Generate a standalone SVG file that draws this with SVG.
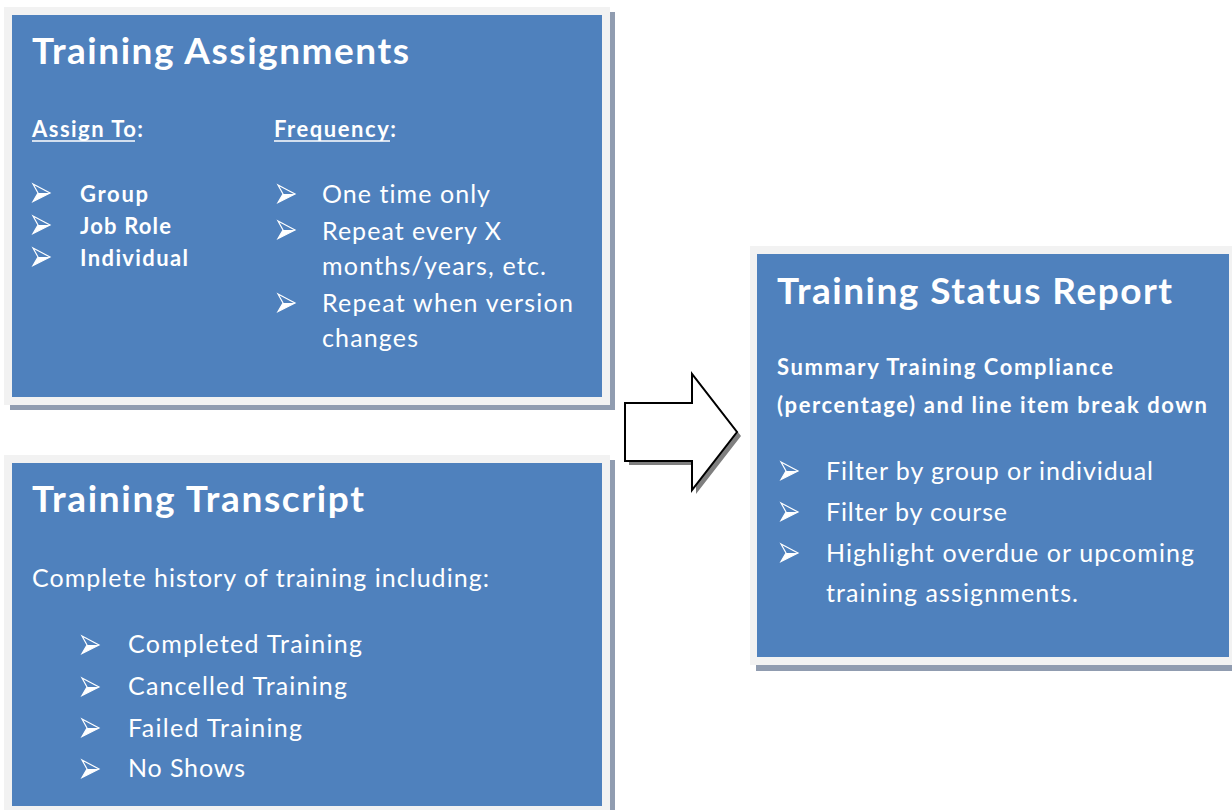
<svg xmlns="http://www.w3.org/2000/svg" xmlns:xlink="http://www.w3.org/1999/xlink" width="1232" height="810" viewBox="0 0 1232 810">
<style>
.shadow{fill:#909cb0}
.frame{fill:#f2f2f2}
.panel{fill:#4f81bd}
text{font-family:Lato,"Open Sans","Liberation Sans",sans-serif;fill:#ffffff;font-variant-ligatures:none;font-feature-settings:"liga" 0}
.title{font-size:37px;font-weight:bold}
.sub{font-size:22px;font-weight:bold}
.item{font-size:25px}
.bitem{font-size:22px;font-weight:bold}
.ul{stroke:#ffffff;stroke-width:1.6}
</style>
<defs>
<g id="bullet">
<path d="M0,0 L17,9 L0,17.5 L5,9 Z" fill="none" stroke="#ffffff" stroke-width="1.2" stroke-linejoin="miter"/>
<path d="M5,9 L17,9 L0,17.5 Z" fill="#ffffff"/>
</g>
</defs>
<rect width="1232" height="810" fill="#ffffff"/>

<g id="training-assignments">
<rect class="shadow" x="10" y="12" width="605" height="398"/>
<rect class="frame" x="4" y="7" width="606" height="398"/>
<rect class="panel" x="12" y="15" width="590" height="382"/>
<text class="title" x="32" y="64" textLength="377">Training Assignments</text>
<text class="sub" x="32" y="137" textLength="111">Assign To:</text>
<line class="ul" x1="32" y1="141" x2="135" y2="141"/>
<text class="sub" x="274" y="137" textLength="122">Frequency:</text>
<line class="ul" x1="274" y1="141" x2="390" y2="141"/>
<use xlink:href="#bullet" x="33" y="184"/>
<use xlink:href="#bullet" x="33" y="216"/>
<use xlink:href="#bullet" x="33" y="248"/>
<text class="bitem" x="80" y="202" textLength="68">Group</text>
<text class="bitem" x="80" y="234" textLength="91">Job Role</text>
<text class="bitem" x="80" y="266" textLength="108">Individual</text>
<use xlink:href="#bullet" x="278" y="185"/>
<use xlink:href="#bullet" x="278" y="221"/>
<use xlink:href="#bullet" x="278" y="294"/>
<text class="item" x="322" y="203" textLength="168">One time only</text>
<text class="item" x="322" y="240" textLength="179">Repeat every X</text>
<text class="item" x="322" y="275" textLength="224">months/years, etc.</text>
<text class="item" x="322" y="312" textLength="251">Repeat when version</text>
<text class="item" x="322" y="347" textLength="96">changes</text>
</g>

<g id="training-transcript">
<rect class="shadow" x="10" y="460" width="605" height="350"/>
<rect class="frame" x="4" y="455" width="606" height="355"/>
<rect class="panel" x="12" y="463" width="590" height="343"/>
<text class="title" x="32" y="512" textLength="332">Training Transcript</text>
<text class="item" x="32" y="587" textLength="457">Complete history of training including:</text>
<use xlink:href="#bullet" x="82" y="636"/>
<use xlink:href="#bullet" x="82" y="678"/>
<use xlink:href="#bullet" x="82" y="719"/>
<use xlink:href="#bullet" x="82" y="760"/>
<text class="item" x="128" y="653" textLength="234">Completed Training</text>
<text class="item" x="128" y="695" textLength="219">Cancelled Training</text>
<text class="item" x="128" y="737" textLength="174">Failed Training</text>
<text class="item" x="128" y="777" textLength="117">No Shows</text>
</g>

<g id="training-status-report">
<rect class="shadow" x="756" y="251" width="476" height="420"/>
<rect class="frame" x="750" y="246" width="482" height="419"/>
<rect class="panel" x="757" y="254" width="472" height="403"/>
<text class="title" x="777" y="304" textLength="395">Training Status Report</text>
<text class="sub" x="777" y="375" textLength="336">Summary Training Compliance</text>
<text class="sub" x="777" y="413" textLength="430">(percentage) and line item break down</text>
<use xlink:href="#bullet" x="781" y="462"/>
<use xlink:href="#bullet" x="781" y="503"/>
<use xlink:href="#bullet" x="781" y="544"/>
<text class="item" x="826" y="480" textLength="327">Filter by group or individual</text>
<text class="item" x="826" y="521" textLength="181">Filter by course</text>
<text class="item" x="826" y="562" textLength="368">Highlight overdue or upcoming</text>
<text class="item" x="826" y="602" textLength="252">training assignments.</text>
</g>

<g id="connectors">
<polygon points="629,407 696,407 696,378 741,436 696,494 696,465 629,465" fill="#7f7f7f"/>
<polygon points="625,403 692,403 692,374 737,432 692,490 692,461 625,461" fill="#ffffff" stroke="#000000" stroke-width="2" stroke-linejoin="miter"/>
</g>
</svg>
